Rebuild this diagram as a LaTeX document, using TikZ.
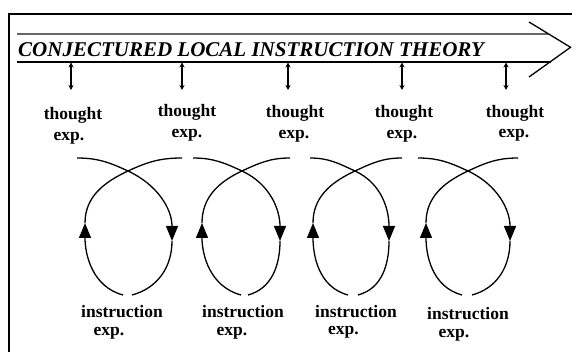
\documentclass[tikz,border=0pt]{standalone}
\usepackage{fontspec}
\setmainfont{Liberation Serif}
\usetikzlibrary{arrows.meta}
\newcommand\mkloop[8]{% #1 id, #2 cx, #3 sx, #4 ex, #5 lx, #6 rx, #7 bBx, #8 bAx
 \coordinate (s#1) at (#3,158);
 \coordinate (e#1) at (#4,158);
 \coordinate (x#1) at (#2,171);
 \coordinate (ra#1) at (#6,241);
 \coordinate (la#1) at (#5,223);
 \coordinate (ba#1) at (#8,295);
 \coordinate (bb#1) at (#7,295);
 \draw[loopline,looptip] (s#1) to[out=0,in=155] (x#1) to[out=-25,in=90] (ra#1);
 \draw[loopline] (ra#1) to[out=-90,in=15] (ba#1);
 \draw[loopline,looptip] (bb#1) to[out=165,in=-90] (la#1);
 \draw[loopline] (la#1) to[out=90,in=205] (x#1) to[out=25,in=180] (e#1);
}
\begin{document}
\begin{tikzpicture}[x=1pt,y=-1pt,
 lbl/.style={font=\fontsize{17.5}{17.5}\selectfont\bfseries, inner sep=0pt, anchor=base},
 loopline/.style={line width=1.3pt},
 looptip/.style={-{Triangle[width=12pt,length=15pt]}},
 dbl/.style={{Stealth[length=5pt,width=5pt]}-{Stealth[length=5pt,width=5pt]}, line width=1.2pt},
 dblthick/.style={dbl, line width=1.8pt}]
\useasboundingbox (0,0) rectangle (572,352);
\begin{scope}
\clip (0,0) rectangle (572,352);
\draw[line width=1.3pt] (9,14) rectangle (600,380);
\end{scope}
% time line arrow
\coordinate (ul0) at (17,34.3);
\coordinate (ul1) at (548,34.3);
\coordinate (ll0) at (17,62);
\coordinate (ll1) at (551,62);
\coordinate (c1) at (529,22);
\coordinate (c2) at (570.5,47.3);
\coordinate (c3) at (529,77);
\draw[line width=2.4pt, black!60] (ul0) -- (ul1);
\draw[line width=1.4pt] (ll0) -- (ll1);
\draw[line width=1.3pt] (c1) -- (c2) -- (c3);
\node[font=\fontsize{21}{21}\selectfont\bfseries\itshape, anchor=base west, inner sep=0pt] (title) at (18,57) {CONJECTURED LOCAL INSTRUCTION THEORY};
% double arrows
\foreach \i/\x in {1/71,2/182,3/288}{
  \coordinate (da\i) at (\x,62.5);
  \coordinate (db\i) at (\x,90);
  \draw[dbl] (da\i) -- (db\i);
}
\foreach \i/\x in {4/402,5/506}{
  \coordinate (da\i) at (\x,62.5);
  \coordinate (db\i) at (\x,90);
  \draw[dblthick] (da\i) -- (db\i);
}
% thought labels
\node[lbl] (t1) at (73,119.5) {thought};
\node[lbl] (te1) at (69,141) {exp.};
\node[lbl] (t2) at (187,117) {thought};
\node[lbl] (te2) at (187,138) {exp.};
\node[lbl] (t3) at (295,118) {thought};
\node[lbl] (te3) at (294,139) {exp.};
\node[lbl] (t4) at (404,118) {thought};
\node[lbl] (te4) at (402,139) {exp.};
\node[lbl] (t5) at (515,117.5) {thought};
\node[lbl] (te5) at (514,137.5) {exp.};
% loops
\mkloop{1}{128}{77}{182}{85}{172}{123}{132}
\mkloop{2}{242}{193}{290}{202}{280}{241}{248}
\mkloop{3}{355}{310}{402}{313}{389}{348}{358}
\mkloop{4}{468}{418}{518}{426}{510}{462}{472}
% instruction labels
\node[lbl] (i1) at (122,317.5) {instruction};
\node[lbl] (ie1) at (109,335) {exp.};
\node[lbl] (i2) at (243,317.5) {instruction};
\node[lbl] (ie2) at (232,335) {exp.};
\node[lbl] (i3) at (356,317) {instruction};
\node[lbl] (ie3) at (343.5,334.5) {exp.};
\node[lbl] (i4) at (468,319.5) {instruction};
\node[lbl] (ie4) at (454,337) {exp.};
\end{tikzpicture}
\end{document}
